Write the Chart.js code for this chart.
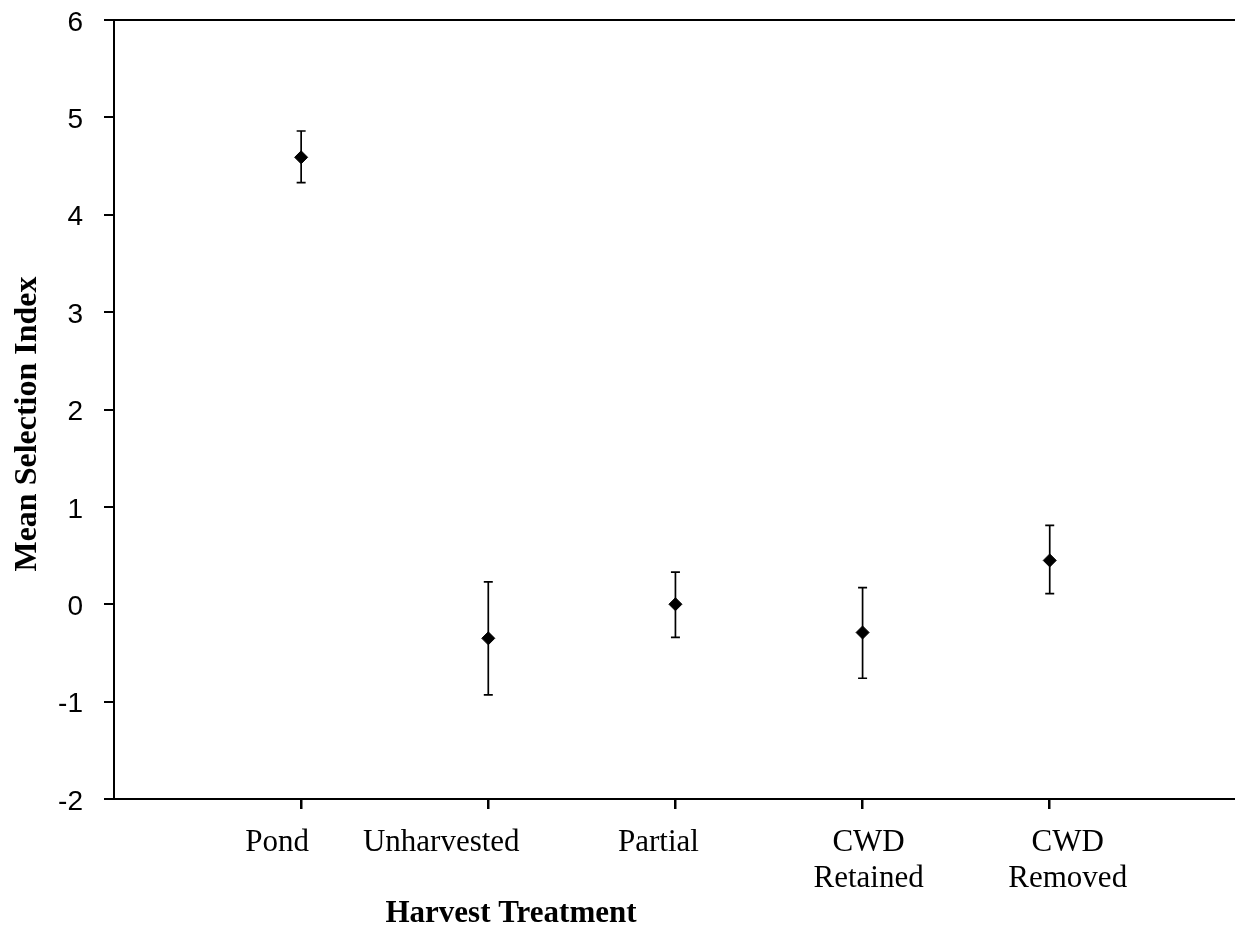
<!DOCTYPE html>
<html>
<head>
<meta charset="utf-8">
<script src="https://cdn.jsdelivr.net/npm/chart.js@4"></script>
<style>
  html, body { margin: 0; padding: 0; background: #fff; }
  #wrap { width: 1235px; height: 938px; }
</style>
</head>
<body>
<div id="wrap"><canvas id="selection-chart"></canvas></div>
<script>
// harvest treatments along the x axis
const categories = ['Pond', 'Unharvested', 'Partial', ['CWD', 'Retained'], ['CWD', 'Removed']];
const positions = [1, 2, 3, 4, 5];

// mean selection index and error bar ends
const means = [4.59, -0.35, 0.0, -0.29, 0.45];
const upper = [4.86, 0.23, 0.33, 0.17, 0.81];
const lower = [4.33, -0.93, -0.34, -0.76, 0.11];

const yTicks = [-2, -1, 0, 1, 2, 3, 4, 5, 6];

// the original text boxes are not quite centred under their ticks (px)
const labelShift = [-24, -47, -17, 6, 18];

const points = positions.map((x, i) => ({ x: x, y: means[i] }));

// vertical error bars with small caps
const errorBars = {
    id: 'errorBars',
    beforeDatasetsDraw(chart) {
        const { ctx, scales: { x, y } } = chart;
        ctx.save();
        ctx.strokeStyle = '#000';
        ctx.lineWidth = 1.7;
        positions.forEach((p, i) => {
            const px = x.getPixelForValue(p);
            const top = y.getPixelForValue(upper[i]);
            const bot = y.getPixelForValue(lower[i]);
            ctx.beginPath();
            ctx.moveTo(px, top);
            ctx.lineTo(px, bot);
            ctx.moveTo(px - 4.5, top);
            ctx.lineTo(px + 4.5, top);
            ctx.moveTo(px - 4.5, bot);
            ctx.lineTo(px + 4.5, bot);
            ctx.stroke();
        });
        ctx.restore();
    }
};

// tick labels for both axes
const tickLabels = {
    id: 'tickLabels',
    afterDraw(chart) {
        const { ctx, scales: { x, y } } = chart;
        ctx.save();
        ctx.fillStyle = '#000';

        ctx.font = '28px "Liberation Sans", Arial, sans-serif';
        ctx.textAlign = 'right';
        ctx.textBaseline = 'middle';
        y.ticks.forEach(t => {
            ctx.fillText(String(t.value), 83, y.getPixelForValue(t.value) + 3);
        });

        ctx.font = '31px "Liberation Serif", "Times New Roman", serif';
        ctx.textAlign = 'center';
        ctx.textBaseline = 'alphabetic';
        positions.forEach((p, i) => {
            const px = x.getPixelForValue(p) + labelShift[i];
            const lines = [].concat(categories[i]);
            lines.forEach((line, k) => {
                ctx.fillText(line, px, y.bottom + 52 + k * 36);
            });
        });
        ctx.restore();
    }
};

// axis titles sit where the original figure put them
const axisTitles = {
    id: 'axisTitles',
    afterDraw(chart) {
        const ctx = chart.ctx;
        ctx.save();
        ctx.fillStyle = '#000';
        ctx.font = 'bold 31px "Liberation Serif", "Times New Roman", serif';
        ctx.textAlign = 'center';
        ctx.textBaseline = 'alphabetic';
        ctx.fillText('Harvest Treatment', 511, 922);

        ctx.font = 'bold 32px "Liberation Serif", "Times New Roman", serif';
        ctx.translate(36, 424);
        ctx.rotate(-Math.PI / 2);
        ctx.fillText('Mean Selection Index', 0, 0);
        ctx.restore();
    }
};

const ctx = document.getElementById('selection-chart').getContext('2d');

const selectionChart = new Chart(ctx, {
    type: 'scatter',
    data: {
        datasets: [{
            label: 'Mean Selection Index',
            data: points,
            pointStyle: 'rectRot',
            pointRadius: 6.5,
            pointHoverRadius: 6.5,
            backgroundColor: '#000',
            borderColor: '#000',
            borderWidth: 1
        }]
    },
    options: {
        responsive: true,
        maintainAspectRatio: false,
        animation: false,
        layout: {
            autoPadding: false,
            padding: { top: 20, right: 0, bottom: 0, left: 0 }
        },
        scales: {
            x: {
                type: 'linear',
                min: 0,
                max: 5.99,
                afterBuildTicks: (axis) => {
                    axis.ticks = positions.map(v => ({ value: v }));
                },
                afterFit: (axis) => { axis.height = 139; },
                border: { display: true, color: '#000', width: 2 },
                grid: {
                    drawOnChartArea: false,
                    color: '#000',
                    tickColor: '#000',
                    tickLength: 10,
                    lineWidth: 2.5
                },
                ticks: { display: false }
            },
            y: {
                min: -2,
                max: 6,
                afterBuildTicks: (axis) => {
                    axis.ticks = yTicks.map(v => ({ value: v }));
                },
                afterFit: (axis) => { axis.width = 114; },
                border: { display: true, color: '#000', width: 2 },
                grid: {
                    color: (c) => (c.tick && c.tick.value === 6 ? '#000' : 'rgba(0,0,0,0)'),
                    tickColor: '#000',
                    tickLength: 10,
                    lineWidth: 2
                },
                ticks: { display: false }
            }
        },
        plugins: {
            legend: { display: false },
            tooltip: { enabled: false }
        }
    },
    plugins: [errorBars, tickLabels, axisTitles]
});
</script>
</body>
</html>
